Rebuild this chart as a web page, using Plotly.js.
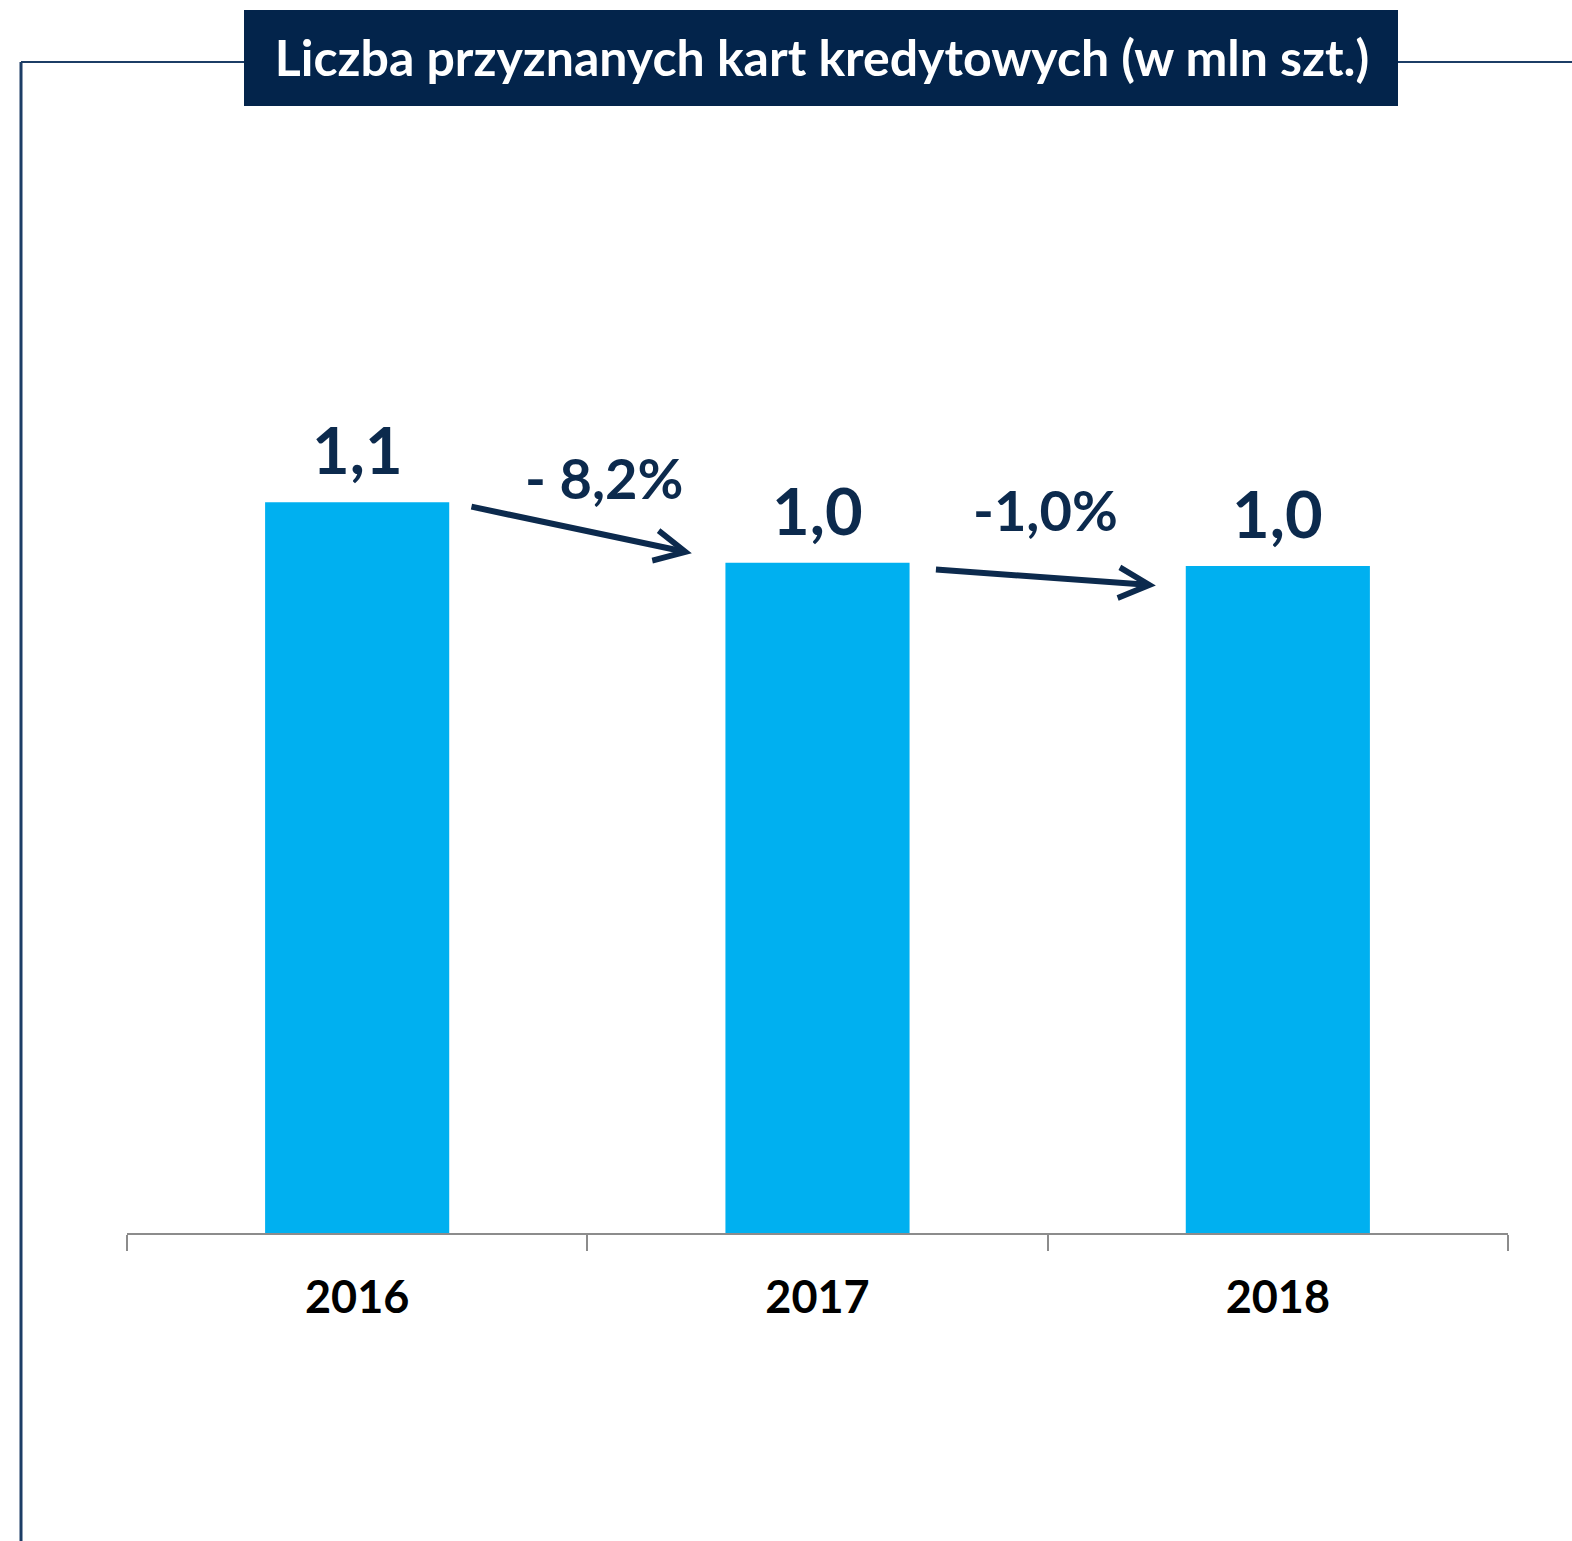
<!DOCTYPE html>
<html>
<head>
<meta charset="utf-8">
<script src="https://cdn.plot.ly/plotly-3.0.1.min.js"></script>
<style>
  html, body { margin: 0; padding: 0; background: #ffffff; }
  #chart { width: 1572px; height: 1541px; }
</style>
</head>
<body>
<div id="chart"></div>
<script>
// ---- data ----
const years = ['2016', '2017', '2018'];
const values = [1.09, 1.00, 0.995];          // mln szt.
const changeLabels = ['- 8,2%', '-1,0%'];
const chartTitle = 'Liczba przyznanych kart kredytowych (w mln szt.)';

// ---- styling / placement ----
const NAVY = '#03244B';
const LABEL_NAVY = '#0C2A4D';
const BAR = '#00B0F0';
const FONT = 'Lato, "Open Sans", sans-serif';
const Y_MAX = 1.6454;

// plot-area geometry (pixels) used for paper-coordinate shapes
const PL = 127, PR = 1508, PT = 130, PB = 1233;
const px = x => (x - PL) / (PR - PL);
const py = y => (PB - y) / (PB - PT);

// placement of growth labels and arrows (category index units / value units)
const changePos = [{x: 0.537, y: 1.127}, {x: 1.496, y: 1.080}];
const arrowPos = [
  {x0: 0.245, y0: 1.084, x1: 0.727, y1: 1.014},
  {x0: 1.254, y0: 0.990, x1: 1.735, y1: 0.966}
];

const trace = {
  type: 'bar',
  x: years,
  y: values,
  marker: { color: BAR },
  hoverinfo: 'skip'
};

const annotations = [];
years.forEach((yr, i) => {
  annotations.push({
    x: i, y: values[i], xref: 'x', yref: 'y',
    text: values[i].toFixed(1).replace('.', ','),
    showarrow: false, xanchor: 'center', yanchor: 'bottom', yshift: 12,
    font: { family: FONT, size: 65, color: LABEL_NAVY, weight: 'bold' }
  });
});
changeLabels.forEach((t, i) => {
  annotations.push({
    x: changePos[i].x, y: changePos[i].y, xref: 'x', yref: 'y',
    text: t, showarrow: false, xanchor: 'center', yanchor: 'middle',
    font: { family: FONT, size: 56, color: LABEL_NAVY, weight: 'bold' }
  });
  const a = arrowPos[i];
  annotations.push({
    x: a.x1, y: a.y1, xref: 'x', yref: 'y',
    ax: a.x0, ay: a.y0, axref: 'x', ayref: 'y',
    text: '', showarrow: true, arrowhead: 5, arrowsize: 1.0,
    arrowwidth: 6, arrowcolor: LABEL_NAVY, standoff: 0, startstandoff: 0
  });
});

const shapes = [
  // frame lines
  { type: 'line', xref: 'paper', yref: 'paper', x0: px(21), x1: px(1572), y0: py(62), y1: py(62),
    line: { color: '#1C3D66', width: 2 }, layer: 'above' },
  { type: 'line', xref: 'paper', yref: 'paper', x0: px(21), x1: px(21), y0: py(62), y1: py(1541),
    line: { color: '#1C3D66', width: 3 }, layer: 'above' },
  // title box
  { type: 'rect', xref: 'paper', yref: 'paper', x0: px(244), x1: px(1398), y0: py(10), y1: py(106),
    fillcolor: NAVY, line: { width: 0 }, layer: 'above' }
];

const layout = {
  width: 1572, height: 1541,
  paper_bgcolor: '#ffffff', plot_bgcolor: '#ffffff',
  margin: { l: PL, r: 1572 - PR, t: PT, b: 1541 - PB, pad: 0 },
  showlegend: false,
  bargap: 0.6,
  title: {
    text: '<b>' + chartTitle + '</b>',
    x: 822 / 1572, xanchor: 'center', xref: 'container',
    y: 1 - 58 / 1541, yanchor: 'middle', yref: 'container',
    font: { family: FONT, size: 50, color: '#ffffff' }
  },
  xaxis: {
    type: 'category',
    range: [-0.5, 2.5], autorange: false,
    showline: true, linecolor: '#8C8C8C', linewidth: 2,
    ticks: 'outside', tickson: 'boundaries', ticklen: 16, tickwidth: 2, tickcolor: '#8C8C8C',
    tickangle: 0,
    tickfont: { family: FONT, size: 45, color: '#000000', weight: 'bold' },
    ticklabelstandoff: 24,
    showgrid: false, zeroline: false, fixedrange: true
  },
  yaxis: {
    range: [0, Y_MAX], autorange: false, visible: false, showgrid: false, zeroline: false, fixedrange: true
  },
  annotations: annotations,
  shapes: shapes
};

Plotly.newPlot('chart', [trace], layout, { displayModeBar: false, staticPlot: true });
</script>
</body>
</html>
